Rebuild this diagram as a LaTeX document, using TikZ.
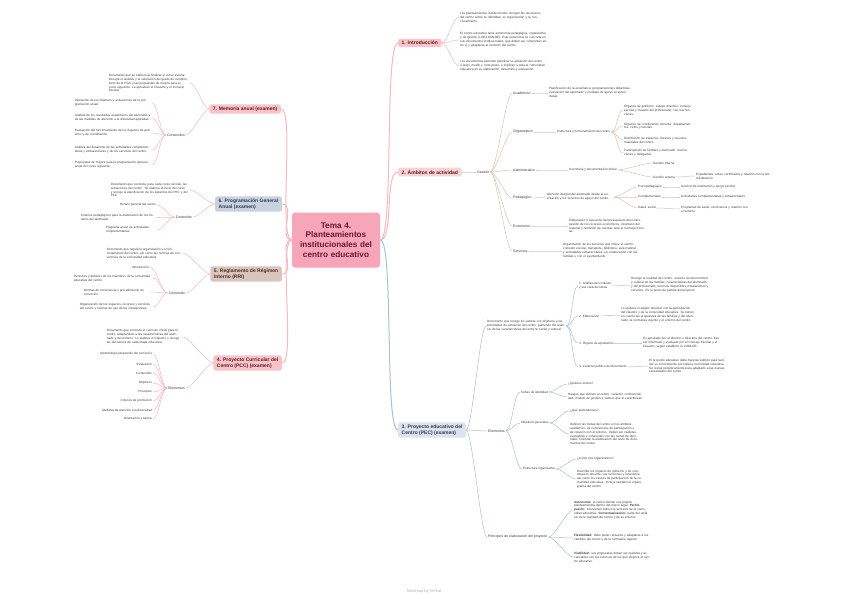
\documentclass[tikz,border=0pt]{standalone}
\usepackage{fontspec}
\setmainfont{Liberation Sans}
\usetikzlibrary{positioning}
\definecolor{centrefill}{HTML}{F7A5BA}
\definecolor{centretext}{HTML}{6E1630}
\definecolor{pinkfill}{HTML}{F9C4C9}
\definecolor{pinktext}{HTML}{5E1A24}
\definecolor{pinkline}{HTML}{F4B9C1}
\definecolor{blushfill}{HTML}{F8D3D5}
\definecolor{bluefill}{HTML}{DCE3EC}
\definecolor{slatefill}{HTML}{C9D3E0}
\definecolor{bluetext}{HTML}{2E3B52}
\definecolor{blueline}{HTML}{AFBED0}
\definecolor{tanfill}{HTML}{D9C5BD}
\definecolor{tantext}{HTML}{4A2E27}
\definecolor{sandline}{HTML}{D5C5BA}
\definecolor{leaftext}{HTML}{3A3A3A}
\tikzset{
    mmcentre/.style={rounded corners=3pt, fill=centrefill, text=centretext, align=center, font=\fontsize{8.2}{9.6}\selectfont\bfseries, minimum width=88pt, minimum height=55pt, text width=80pt},
    mmtopic/.style={rounded corners=2pt, align=left, font=\fontsize{5}{6}\selectfont\bfseries, inner xsep=3.5pt, inner ysep=2.2pt},
    mmlabel/.style={font=\fontsize{3.5}{4.2}\selectfont, text=leaftext, inner sep=1pt},
    mmleaf/.style={font=\fontsize{3.1}{3.9}\selectfont, text=leaftext, align=left, inner sep=1pt},
    mmlink/.style={line width=0.5pt},
    mmroot/.style={line width=1pt}
}
\begin{document}
\begin{tikzpicture}[x=1pt, y=-1pt]
    \fill[white] (0,0) rectangle (848,599);
    \useasboundingbox (0,0) rectangle (848,599);

    % centre
    \node[mmcentre] (tema) at (336,240) {Tema 4.\\Planteamientos\\institucionales del\\centro educativo};

    % right: topics
    \node[mmtopic, fill=pinkfill, text=pinktext, anchor=west] (intro) at (398,43) {1. Introducción};
    \node[mmtopic, fill=blushfill, text=pinktext, anchor=west] (amb) at (398,172) {2. Ámbitos de actividad};
    \node[mmtopic, fill=bluefill, text=bluetext, anchor=west] (pec) at (398,430) {3. Proyecto educativo del\\Centro (PEC) (examen)};

    % left: topics
    \node[mmtopic, fill=pinkfill, text=pinktext, anchor=east] (mem) at (281,109) {7. Memoria anual (examen)};
    \node[mmtopic, fill=slatefill, text=bluetext, anchor=east] (pga) at (282,204) {6. Programación General\\Anual (examen)};
    \node[mmtopic, fill=tanfill, text=tantext, anchor=east] (rri) at (282,274) {5. Reglamento de Régimen\\Interno (RRI)};
    \node[mmtopic, fill=pinkfill, text=pinktext, anchor=east] (pcc) at (282,363) {4. Proyecto Curricular del\\Centro (PCC) (examen)};

    % 1. introduccion
    \node[mmleaf, text width=88pt, anchor=west] (ia) at (459,17) {Los planteamientos institucionales recogen las decisiones del centro sobre su identidad, su organización y su funcionamiento.};
    \node[mmleaf, text width=88pt, anchor=west] (ib) at (459,40) {El centro educativo tiene autonomía pedagógica, organizativa y de gestión (LOE/LOMLOE). Esta autonomía se concreta en sus documentos institucionales, que deben ser coherentes entre sí y adaptarse al contexto del centro.};
    \node[mmleaf, text width=88pt, anchor=west] (ic) at (459,66) {Los documentos permiten planificar la actuación del centro a largo, medio y corto plazo, e implican a toda la comunidad educativa en su elaboración, desarrollo y evaluación.};

    % 2. ambitos
    \node[mmlabel, anchor=west] (gest) at (476,172) {Gestión};
    \node[mmlabel, anchor=west] (acad) at (512,93) {Académico};
    \node[mmlabel, anchor=west] (orga) at (512,132) {Organizativo};
    \node[mmlabel, anchor=west] (admi) at (512,170) {Administrativo};
    \node[mmlabel, anchor=west] (peda) at (512,198) {Pedagógico};
    \node[mmlabel, anchor=west] (econ) at (512,226) {Económico};
    \node[mmlabel, anchor=west] (serv) at (512,251) {Servicios};

    \node[mmleaf, text width=82pt, anchor=west] (acadt) at (548,93) {Planificación de la enseñanza, programaciones didácticas, evaluación del alumnado y medidas de apoyo al aprendizaje.};
    \node[mmleaf, anchor=west] (orgat) at (556,132) {Estructura y funcionamiento del centro};
    \node[mmleaf, text width=68pt, anchor=west] (orga1) at (623,110) {Órganos de gobierno: equipo directivo, consejo escolar y claustro del profesorado, con sus funciones.};
    \node[mmleaf, text width=68pt, anchor=west] (orga2) at (623,126) {Órganos de coordinación docente: departamentos, ciclos y tutorías.};
    \node[mmleaf, text width=68pt, anchor=west] (orga3) at (623,140) {Distribución de espacios, horarios y recursos materiales del centro.};
    \node[mmleaf, text width=68pt, anchor=west] (orga4) at (623,153) {Participación de familias y alumnado: asociaciones y delegados.};
    \node[mmleaf, anchor=west] (admit) at (568,170) {Secretaría y documentación oficial};
    \node[mmleaf, anchor=west] (admi1) at (652,163) {Gestión interna};
    \node[mmleaf, anchor=west] (admi2) at (652,177) {Gestión externa};
    \node[mmleaf, text width=78pt, anchor=west] (admi2t) at (695,176) {Expedientes, actas, certificados y relación con la Administración.};
    \node[mmleaf, text width=66pt, anchor=west] (pedat) at (546,197) {Atención integral del alumnado desde la orientación y los servicios de apoyo del centro.};
    \node[mmleaf, anchor=west] (peda1) at (637,187) {Psicopedagógico};
    \node[mmleaf, anchor=west] (peda2) at (637,197) {Complementario};
    \node[mmleaf, anchor=west] (peda3) at (637,208) {Salud, social};
    \node[mmleaf, anchor=west] (peda1t) at (680,187) {Servicio de orientación y apoyo escolar.};
    \node[mmleaf, anchor=west] (peda2t) at (680,197) {Actividades complementarias y extraescolares.};
    \node[mmleaf, text width=68pt, anchor=west] (peda3t) at (680,209) {Programas de salud, convivencia y relación con el entorno.};
    \node[mmleaf, text width=76pt, anchor=west] (econt) at (568,226) {Elaboración y ejecución del presupuesto del centro, gestión de los recursos económicos, inventario del material y rendición de cuentas ante el Consejo Escolar.};
    \node[mmleaf, text width=78pt, anchor=west] (servt) at (562,251) {Organización de los servicios que ofrece el centro: comedor escolar, transporte, biblioteca, aula matinal y actividades extraescolares, en colaboración con las familias y con el ayuntamiento.};

    % 3. proyecto educativo
    \node[mmleaf, text width=78pt, anchor=west] (pecdef) at (486,326) {Documento que recoge los valores, los objetivos y las prioridades de actuación del centro, partiendo del análisis de las características del entorno social y cultural.};
    \node[mmleaf, anchor=west] (pd1) at (578,286) {1. Análisis del contexto\\y sus características};
    \node[mmleaf, anchor=west] (pd2) at (578,316) {2. Elaboración};
    \node[mmleaf, anchor=west] (pd3) at (578,343) {3. Órgano de aprobación};
    \node[mmleaf, anchor=west] (pd4) at (578,367) {4. Carácter público del documento};
    \node[mmleaf, text width=78pt, anchor=west] (pd1t) at (630,285) {Recoge la realidad del centro: entorno socioeconómico y cultural de las familias, características del alumnado y del profesorado, recursos disponibles, instalaciones y servicios. Es el punto de partida del proyecto.};
    \node[mmleaf, text width=74pt, anchor=west] (pd2t) at (620,315) {Lo elabora el equipo directivo con la participación del claustro y de la comunidad educativa. Se tienen en cuenta las propuestas de las familias y del alumnado, la normativa vigente y el entorno del centro.};
    \node[mmleaf, text width=77pt, anchor=west] (pd3t) at (642,343) {Es aprobado por el director o directora del centro, tras ser informado y evaluado por el Consejo Escolar y el Claustro, según establece la LOMLOE.};
    \node[mmleaf, text width=77pt, anchor=west] (pd4t) at (648,366) {El proyecto educativo debe hacerse público para facilitar su conocimiento por toda la comunidad educativa. Se revisa periódicamente para adaptarlo a las nuevas necesidades del centro.};

    \node[mmlabel, anchor=west] (pecel) at (487,431) {Elementos};
    \node[mmleaf, anchor=west] (pe1) at (520,392) {Señas de identidad};
    \node[mmleaf, anchor=west] (pe2) at (520,423) {Objetivos generales};
    \node[mmleaf, anchor=west] (pe3) at (522,469) {Estructura organizativa};
    \node[mmleaf, anchor=west] (pe1q) at (567,384) {¿Quiénes somos?};
    \node[mmleaf, text width=76pt, anchor=west] (pe1t) at (567,397) {Rasgos que definen al centro: carácter, confesionalidad, modelo de gestión y valores que lo caracterizan.};
    \node[mmleaf, anchor=west] (pe2q) at (569,411) {¿Qué pretendemos?};
    \node[mmleaf, text width=70pt, anchor=west] (pe2t) at (569,434) {Definen las metas del centro en los ámbitos académico, de convivencia, de participación y de relación con el entorno. Deben ser realistas, evaluables y coherentes con las señas de identidad. Orientan la elaboración del resto de documentos del centro.};
    \node[mmleaf, anchor=west] (pe3q) at (576,459) {¿Cómo nos organizamos?};
    \node[mmleaf, text width=68pt, anchor=west] (pe3t) at (576,479) {Describe los órganos de gobierno y de coordinación docente, sus funciones y relaciones, así como los cauces de participación de la comunidad educativa. Incluye también el organigrama del centro.};

    \node[mmlabel, anchor=west] (pecpr) at (487,537) {Principios de elaboración del proyecto};
    \node[mmleaf, text width=76pt, anchor=west] (pp1) at (573,510) {\textbf{Autonomía:} el centro decide sus propios planteamientos dentro del marco legal. \textbf{Participación:} intervienen todos los sectores de la comunidad educativa. \textbf{Contextualización:} parte del análisis de la realidad del centro y de su entorno.};
    \node[mmleaf, text width=76pt, anchor=west] (pp2) at (573,538) {\textbf{Flexibilidad:} debe poder revisarse y adaptarse a los cambios del centro y de la normativa vigente.};
    \node[mmleaf, text width=76pt, anchor=west] (pp3) at (573,557) {\textbf{Viabilidad:} sus propuestas deben ser realistas y alcanzables con los recursos de los que dispone el centro educativo.};

    % 7. memoria anual
    \node[mmleaf, text width=80pt, anchor=east] (memt) at (190,83) {Documento que se elabora al finalizar el curso escolar. Recoge el análisis y la valoración del grado de cumplimiento de la PGA y las propuestas de mejora para el curso siguiente. La aprueban el Claustro y el Consejo Escolar.};
    \node[mmlabel, anchor=east] (memc) at (186,135) {Contenidos};
    \node[mmleaf, text width=76pt, anchor=east] (mem1) at (152,103) {Valoración de los objetivos y actuaciones de la programación anual.};
    \node[mmleaf, text width=76pt, anchor=east] (mem2) at (152,118) {Análisis de los resultados académicos del alumnado y de las medidas de atención a la diversidad aplicadas.};
    \node[mmleaf, text width=76pt, anchor=east] (mem3) at (152,133) {Evaluación del funcionamiento de los órganos de gobierno y de coordinación.};
    \node[mmleaf, text width=76pt, anchor=east] (mem4) at (152,150) {Análisis del desarrollo de las actividades complementarias y extraescolares y de los servicios del centro.};
    \node[mmleaf, text width=76pt, anchor=east] (mem5) at (152,165) {Propuestas de mejora para la programación general anual del curso siguiente.};

    % 6. programacion general anual
    \node[mmleaf, text width=78pt, anchor=east] (pgat) at (190,190) {Documento que concreta, para cada curso escolar, las actuaciones del centro. Se elabora al inicio del curso y recoge la planificación de los aspectos del PEC y del PCC.};
    \node[mmlabel, anchor=east] (pgac) at (193,217) {Contenido};
    \node[mmleaf, anchor=east] (pga1) at (157,205) {Horario general del centro};
    \node[mmleaf, text width=75pt, anchor=east] (pga2) at (157,217) {Criterios pedagógicos para la elaboración de los horarios del alumnado.};
    \node[mmleaf, text width=50pt, anchor=east] (pga3) at (157,230) {Programa anual de actividades complementarias.};

    % 5. reglamento de regimen interno
    \node[mmleaf, text width=75pt, anchor=east] (rrit) at (183,253) {Documento que regula la organización y el funcionamiento del centro, así como las normas de convivencia de la comunidad educativa.};
    \node[mmlabel, anchor=east] (rric) at (186,293) {Contenido};
    \node[mmleaf, anchor=east] (rri1) at (150,267) {Introducción};
    \node[mmleaf, text width=78pt, anchor=east] (rri2) at (153,278) {Derechos y deberes de los miembros de la comunidad educativa del centro.};
    \node[mmleaf, text width=66pt, anchor=east] (rri3) at (151,292) {Normas de convivencia y procedimiento de corrección.};
    \node[mmleaf, text width=72pt, anchor=east] (rri4) at (153,307) {Organización de los espacios, recursos y servicios del centro y normas de uso de las instalaciones.};

    % 4. proyecto curricular
    \node[mmleaf, text width=75pt, anchor=east] (pcct) at (183,337) {Documento que concreta el currículo oficial para el centro, adaptándolo a las características del alumnado y del entorno. Lo elabora el Claustro y recoge las decisiones de cada etapa educativa.};
    \node[mmlabel, anchor=east] (pccc) at (186,388) {Elementos};
    \node[mmleaf, anchor=east] (pcc1) at (153,354) {Metodología (desarrollo del currículo)};
    \node[mmleaf, anchor=east] (pcc2) at (153,364) {Evaluación};
    \node[mmleaf, anchor=east] (pcc3) at (153,373) {Contenidos};
    \node[mmleaf, anchor=east] (pcc4) at (153,383) {Objetivos};
    \node[mmleaf, anchor=east] (pcc5) at (153,392) {Principios};
    \node[mmleaf, anchor=east] (pcc6) at (153,401) {Criterios de promoción};
    \node[mmleaf, anchor=east] (pcc7) at (153,410) {Medidas de atención a la diversidad};
    \node[mmleaf, anchor=east] (pcc8) at (153,419) {Orientación y tutoría};

    \node[font=\fontsize{4}{5}\selectfont, text=black!30] (foot) at (424,591) {Mindmap by Xmind};

    % links from the centre
    \foreach \b in {intro,amb}
        \draw[mmroot, pinkline] (tema.east) to[out=0, in=180, distance=14pt] (\b.west);
    \draw[mmroot, blueline] (tema.east) to[out=0, in=180, distance=14pt] (pec.west);
    \foreach \b in {mem,pga,rri,pcc}
        \draw[mmroot, pinkline] (tema.west) to[out=180, in=0, distance=14pt] (\b.east);

    % right links
    \foreach \a/\b in {intro/ia,intro/ib,intro/ic}
        \draw[mmlink, pinkline] (\a.east) to[out=0, in=180, distance=6pt] (\b.west);
    \foreach \a/\b in {amb/gest,gest/acad,gest/orga,gest/admi,gest/peda,gest/econ,gest/serv,acad/acadt,orga/orgat,orgat/orga1,orgat/orga2,orgat/orga3,orgat/orga4,admi/admit,admit/admi1,admit/admi2,admi2/admi2t,peda/pedat,pedat/peda1,pedat/peda2,pedat/peda3,peda1/peda1t,peda2/peda2t,peda3/peda3t,econ/econt,serv/servt}
        \draw[mmlink, sandline] (\a.east) to[out=0, in=180, distance=6pt] (\b.west);
    \foreach \a/\b in {pec/pecdef,pec/pecel,pec/pecpr,pecdef/pd1,pecdef/pd2,pecdef/pd3,pecdef/pd4,pd1/pd1t,pd2/pd2t,pd3/pd3t,pd4/pd4t,pecel/pe1,pecel/pe2,pecel/pe3,pe1/pe1q,pe1/pe1t,pe2/pe2q,pe2/pe2t,pe3/pe3q,pe3/pe3t,pecpr/pp1,pecpr/pp2,pecpr/pp3}
        \draw[mmlink, blueline] (\a.east) to[out=0, in=180, distance=6pt] (\b.west);

    % left links
    \foreach \a/\b in {mem/memt,mem/memc,memc/mem1,memc/mem2,memc/mem3,memc/mem4,memc/mem5,pga/pgat,pga/pgac,pgac/pga1,pgac/pga2,pgac/pga3,rri/rrit,rri/rric,rric/rri1,rric/rri2,rric/rri3,rric/rri4,pcc/pcct,pcc/pccc,pccc/pcc1,pccc/pcc2,pccc/pcc3,pccc/pcc4,pccc/pcc5,pccc/pcc6,pccc/pcc7,pccc/pcc8}
        \draw[mmlink, pinkline] (\a.west) to[out=180, in=0, distance=6pt] (\b.east);
\end{tikzpicture}
\end{document}
